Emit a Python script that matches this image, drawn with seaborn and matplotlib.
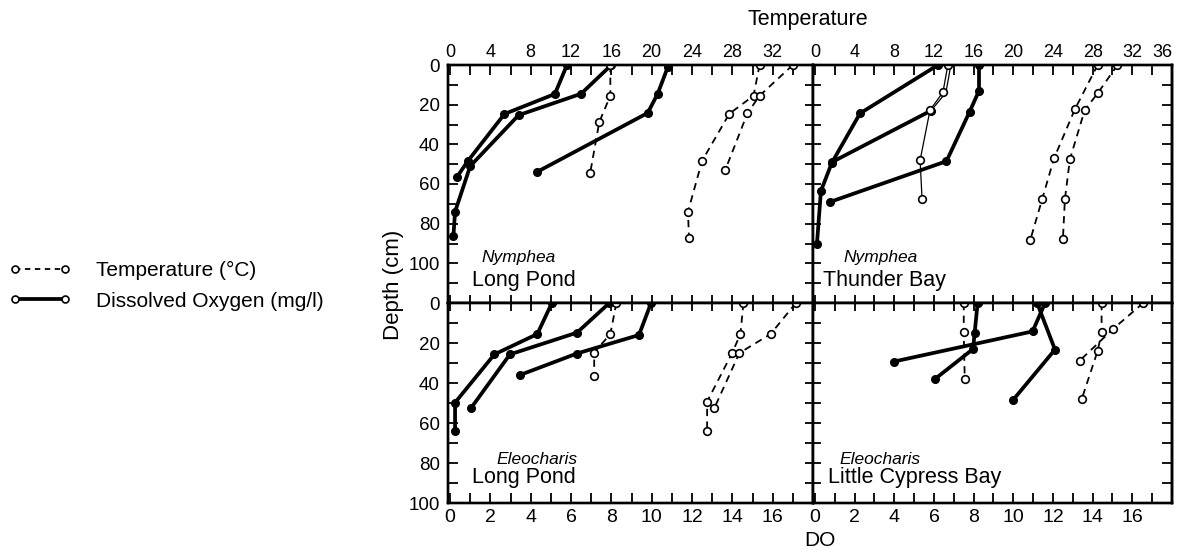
import numpy as np
import pandas as pd
import matplotlib
matplotlib.use("Agg")
import matplotlib.pyplot as plt
import seaborn as sns
from matplotlib.lines import Line2D
from matplotlib.ticker import FixedLocator

sns.set_style("ticks")
plt.rcParams["font.family"] = ["Liberation Sans", "DejaVu Sans"]
plt.rcParams.update({"axes.edgecolor": "black", "xtick.color": "black",
                     "ytick.color": "black", "text.color": "black",
                     "axes.labelcolor": "black"})

# ---------------- data (DO in mg/l, temperature in deg C, depth in cm) -------------
# Nymphea - Long Pond
lpn_do_1 = [5.8, 5.2, 2.7, 0.87, 0.33]
lpn_do_1_depth = [0, 14.6, 24.7, 48.6, 56.7]
lpn_do_2 = [8.0, 6.5, 3.4, 1.0, 0.25, 0.17]
lpn_do_2_depth = [0, 14.5, 25.3, 51, 74, 86]
lpn_do_3 = [10.8, 10.3, 9.8, 4.3]
lpn_do_3_depth = [1, 14.5, 24.2, 54]
lpn_t_1 = [15.9, 15.9, 14.8, 13.9]
lpn_t_1_depth = [0, 15.5, 28.8, 54.5]
lpn_t_2 = [30.7, 30.1, 27.7, 25.0, 23.6, 23.7]
lpn_t_2_depth = [0, 15.5, 24.6, 48.3, 74, 87]
lpn_t_3 = [34.0, 30.7, 29.5, 27.3]
lpn_t_3_depth = [0, 15.5, 24.3, 52.9]

# Nymphea - Thunder Bay
tb_do_1 = [6.2, 2.27, 0.85, 0.3, 0.1]
tb_do_1_depth = [0, 24.4, 49.3, 63.5, 90]
tb_do_2 = [6.85, 6.6, 5.85, 0.85]
tb_do_2_depth = [0, 14, 23, 49]
tb_do_3 = [8.27, 8.27, 7.8, 6.63, 0.77]
tb_do_3_depth = [0, 13, 23.5, 48.5, 69]
tb_t_thin = [13.4, 12.9, 11.6, 10.6, 10.8]
tb_t_thin_depth = [0, 13.8, 22.7, 48, 67.8]
tb_t_1 = [28.5, 26.2, 24.1, 22.9, 21.7]
tb_t_1_depth = [0, 22.4, 47.1, 67.8, 88.4]
tb_t_2 = [30.5, 28.5, 27.2, 25.7, 25.2, 25.0]
tb_t_2_depth = [0, 14.3, 22.7, 47.6, 67.7, 87.9]

# Eleocharis - Long Pond
lpe_do_1 = [5.05, 4.33, 2.2, 0.25, 0.25]
lpe_do_1_depth = [0, 15.5, 25.7, 49.8, 64]
lpe_do_2 = [7.9, 6.3, 2.97, 1.03]
lpe_do_2_depth = [0, 14.8, 25.7, 52.7]
lpe_do_3 = [9.97, 9.37, 6.28, 3.47]
lpe_do_3_depth = [0, 16, 25.3, 36]
lpe_t_1 = [16.5, 15.9, 14.3, 14.3]
lpe_t_1_depth = [0, 15.5, 24.8, 36.5]
lpe_t_2 = [29.1, 28.8, 28.0, 25.5, 25.5]
lpe_t_2_depth = [0, 15.5, 24.8, 49.3, 64]
lpe_t_3 = [34.3, 31.8, 28.7, 26.2]
lpe_t_3_depth = [0, 15.5, 25, 52.7]

# Eleocharis - Little Cypress Bay
lcb_do_1 = [8.2, 8.05, 7.97, 6.05]
lcb_do_1_depth = [0, 15, 23, 38]
lcb_do_2 = [11.6, 10.97, 3.97]
lcb_do_2_depth = [0, 14.2, 29.3]
lcb_do_3 = [11.2, 12.1, 9.97]
lcb_do_3_depth = [0, 23.3, 48.7]
lcb_t_1 = [15.0, 15.0, 15.1]
lcb_t_1_depth = [0, 14.7, 38]
lcb_t_2 = [28.9, 28.9, 28.5, 26.9]
lcb_t_2_depth = [0, 14.7, 24, 48]
lcb_t_3 = [33.1, 30.1, 26.7]
lcb_t_3_depth = [0, 12.8, 28.8]

# tick labels
temp_labels_left = [0, 4, 8, 12, 16, 20, 24, 28, 32]
temp_labels_right = [0, 4, 8, 12, 16, 20, 24, 28, 32, 36]
do_labels = [0, 2, 4, 6, 8, 10, 12, 14, 16]
depth_labels = [0, 20, 40, 60, 80, 100]

# ---------------- figure ----------------
W, H = 1179, 550
fig = plt.figure(figsize=(W / 100, H / 100), dpi=100)


def rect(x0, y0, x1, y1):
    return [x0 / W, 1 - y1 / H, (x1 - x0) / W, (y1 - y0) / H]


LW_DO = 2.7
MS = 5.5


def draw_do(ax, x, y, lw=LW_DO, marker="o"):
    sns.lineplot(x=x, y=y, ax=ax, sort=False, estimator=None, color="black",
                 linewidth=lw, marker=marker, markersize=MS,
                 markerfacecolor="black", markeredgecolor="black",
                 markeredgewidth=1.0, legend=False)


def draw_temp(ax, x, y, ls=(0, (4, 3)), lw=1.3):
    sns.lineplot(x=x, y=y, ax=ax, sort=False, estimator=None, color="black",
                 linewidth=lw, linestyle=ls, marker="o", markersize=MS,
                 markerfacecolor="white", markeredgecolor="black",
                 markeredgewidth=1.2, legend=False)


panels = [
    dict(pos=rect(448, 65, 813, 303), top=True, left=True,
         do=[(lpn_do_1, lpn_do_1_depth), (lpn_do_2, lpn_do_2_depth), (lpn_do_3, lpn_do_3_depth)],
         temp=[(lpn_t_1, lpn_t_1_depth), (lpn_t_2, lpn_t_2_depth), (lpn_t_3, lpn_t_3_depth)],
         genus="Nymphea", site="Long Pond", gx=0.093, sx=0.066),
    dict(pos=rect(813, 65, 1172, 303), top=True, left=False,
         do=[(tb_do_1, tb_do_1_depth), (tb_do_3, tb_do_3_depth)],
         temp=[(tb_t_1, tb_t_1_depth), (tb_t_2, tb_t_2_depth)],
         genus="Nymphea", site="Thunder Bay", gx=0.084, sx=0.028),
    dict(pos=rect(448, 303, 813, 503), top=False, left=True,
         do=[(lpe_do_1, lpe_do_1_depth), (lpe_do_2, lpe_do_2_depth), (lpe_do_3, lpe_do_3_depth)],
         temp=[(lpe_t_1, lpe_t_1_depth), (lpe_t_2, lpe_t_2_depth), (lpe_t_3, lpe_t_3_depth)],
         genus="Eleocharis", site="Long Pond", gx=0.134, sx=0.066),
    dict(pos=rect(813, 303, 1172, 503), top=False, left=False,
         do=[(lcb_do_1, lcb_do_1_depth), (lcb_do_2, lcb_do_2_depth), (lcb_do_3, lcb_do_3_depth)],
         temp=[(lcb_t_1, lcb_t_1_depth), (lcb_t_2, lcb_t_2_depth), (lcb_t_3, lcb_t_3_depth)],
         genus="Eleocharis", site="Little Cypress Bay", gx=0.075, sx=0.042),
]

SPW = 1.7
TKW = 1.3

for i, p in enumerate(panels):
    ax = fig.add_axes(p["pos"])
    ax_t = ax.twiny()
    for d, dep in p["do"]:
        draw_do(ax, d, dep)
    for t, dep in p["temp"]:
        draw_temp(ax_t, t, dep)
    if i == 1:
        # Thunder Bay: outlined DO profile and thin solid temperature profile
        draw_do(ax, tb_do_2[:3], tb_do_2_depth[:3], lw=0.9, marker=None)
        draw_do(ax, tb_do_2[2:], tb_do_2_depth[2:])
        draw_temp(ax_t, tb_t_thin, tb_t_thin_depth, ls="-", lw=0.9)

    ax.set_xlim(-0.1, 18)
    ax_t.set_xlim(-0.2, 36)
    ymax = 120 if p["top"] else 100
    ax.set_ylim(ymax, 0)
    ax.set_xlabel("")
    ax.set_ylabel("")
    ax_t.set_xlabel("")
    ax_t.set_ylabel("")

    for a in (ax, ax_t):
        for s in a.spines.values():
            s.set_linewidth(SPW)
            s.set_color("black")
            s.set_visible(True)

    # y ticks
    ax.yaxis.set_major_locator(FixedLocator(depth_labels))
    ax.yaxis.set_minor_locator(FixedLocator(list(range(10, ymax, 10))))
    if p["left"]:
        ax.tick_params(axis="y", which="both", direction="in", left=True, right=False,
                       labelleft=True, length=7, width=TKW, labelsize=13.5, pad=6)
    else:
        ax.tick_params(axis="y", which="both", direction="inout", left=True, right=False,
                       labelleft=False, length=11, width=TKW)
        sec = ax.secondary_yaxis("right")
        sec.yaxis.set_major_locator(FixedLocator(list(range(10, ymax, 10))))
        sec.tick_params(axis="y", which="both", direction="in", length=7, width=TKW,
                        labelright=False, color="black")
        sec.spines["right"].set_linewidth(SPW)
        sec.spines["right"].set_color("black")

    if p["top"]:
        ax.tick_params(axis="x", which="both", bottom=False, top=False,
                       labelbottom=False, labeltop=False)
        labs = temp_labels_left if p["left"] else temp_labels_right
        ax_t.xaxis.set_major_locator(FixedLocator(labs))
        ax_t.xaxis.set_minor_locator(FixedLocator(list(range(2, 37, 4))))
        ax_t.set_xticklabels([str(v) for v in labs])
        ax_t.tick_params(axis="x", which="both", direction="in", top=True, bottom=False,
                         labeltop=True, length=7, width=TKW, labelsize=13, pad=3)
        if not p["left"]:
            ax_t.get_xticklabels()[-1].set_horizontalalignment("right")
    else:
        ax.xaxis.set_major_locator(FixedLocator(do_labels))
        ax.xaxis.set_minor_locator(FixedLocator([v for v in range(1, 18)]))
        ax.set_xticklabels([str(v) for v in do_labels])
        ax.tick_params(axis="x", which="both", direction="in", bottom=True, top=False,
                       labelbottom=True, length=7, width=TKW, labelsize=14, pad=4)
        ax_t.xaxis.set_major_locator(FixedLocator(list(range(0, 37, 2))))
        ax_t.tick_params(axis="x", which="both", direction="inout", top=True, bottom=False,
                         labeltop=False, length=11, width=TKW)

    ax.text(p["gx"], 0.19 if p["top"] else 0.22, p["genus"], transform=ax.transAxes,
            ha="left", va="center", fontsize=12.5, style="italic")
    ax.text(p["sx"], 0.095 if p["top"] else 0.125, p["site"], transform=ax.transAxes,
            ha="left", va="center", fontsize=15.5)

fig.text(808 / W, 1 - 19 / H, "Temperature", ha="center", va="center", fontsize=15.5)
fig.text(820 / W, 1 - 540 / H, "DO", ha="center", va="center", fontsize=15)
fig.text(393 / W, 1 - 285 / H, "Depth (cm)", ha="center", va="center", fontsize=16,
         rotation=90)

handles = [
    Line2D([0], [0], color="black", lw=1.3, ls=(0, (3, 2.5)), marker="o", ms=5,
           mfc="white", mec="black", mew=1.2),
    Line2D([0], [0], color="black", lw=2.7, ls="-", marker="o", ms=5,
           mfc="white", mec="black", mew=1.2),
]
fig.legend(handles=handles, labels=["Temperature (°C)", "Dissolved Oxygen (mg/l)"],
           loc="upper left", bbox_to_anchor=(9 / W, 1 - 261 / H), frameon=False,
           numpoints=2, handlelength=3.0, handletextpad=1.2, fontsize=15,
           labelspacing=0.55, borderpad=0, borderaxespad=0)

fig.savefig("out.png", dpi=100, facecolor="white")
